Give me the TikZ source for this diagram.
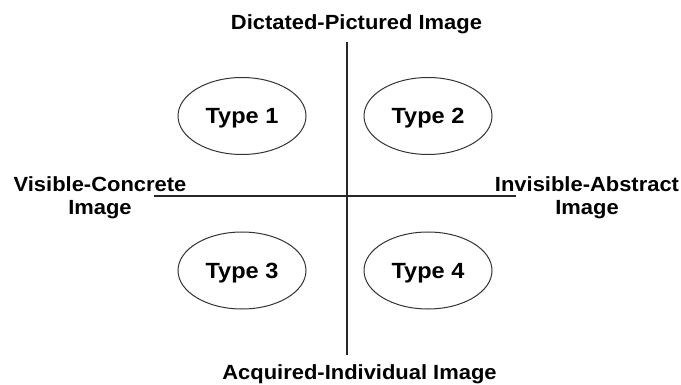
\documentclass[tikz,border=0pt]{standalone}
\usepackage{fontspec}
\setmainfont[FakeStretch=1.07]{Liberation Sans}
\usetikzlibrary{shapes.geometric}
\begin{document}
\begin{tikzpicture}[x=1pt,y=-1pt,
  axis/.style={draw=black!85,line width=1.1pt},
  typeblob/.style={ellipse,draw=black!80,line width=1pt,minimum width=128pt,minimum height=77pt,inner sep=0pt,text depth=0pt,font=\bfseries\fontsize{22}{24}\selectfont},
  lbl/.style={font=\bfseries\fontsize{20.5}{23}\selectfont,align=center,inner sep=0pt}]
\useasboundingbox (0,0) rectangle (681,385);
\node[lbl,anchor=base] (top) at (356.5,29.5) {Dictated-Pictured Image};
\node[lbl,anchor=base] (bot) at (359.5,379.5) {Acquired-Individual Image};
\node[lbl] (left) at (100,198) {Visible-Concrete\\Image};
\node[lbl] (right) at (587,198) {Invisible-Abstract\\Image};
\coordinate (vt) at (347,42);
\coordinate (vb) at (347,355);
\coordinate (hl) at (154,196);
\coordinate (hr) at (516,196);
\draw[axis] (vt) -- (vb);
\draw[axis] (hl) -- (hr);
\node[typeblob] (t1) at (242,116) {Type 1};
\node[typeblob] (t2) at (428,116) {Type 2};
\node[typeblob] (t3) at (242,270.5) {Type 3};
\node[typeblob] (t4) at (428,270.5) {Type 4};
\end{tikzpicture}
\end{document}
